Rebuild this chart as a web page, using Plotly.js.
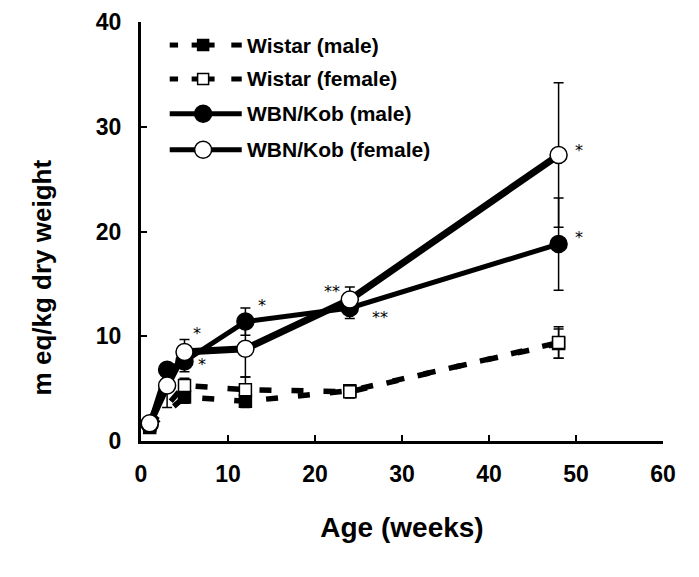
<!DOCTYPE html>
<html>
<head>
<meta charset="utf-8">
<script src="https://cdn.plot.ly/plotly-3.0.1.min.js"></script>
<style>html,body{margin:0;padding:0;background:#fff;}#chart{width:699px;height:577px;}</style>
</head>
<body>
<div id="chart"></div>
<script>
// ---- data ----
const agesWBN = [1, 3, 5, 12, 24, 48];
const agesWistar = [1, 5, 12, 24, 48];

const wistarMale = [1.3, 4.2, 3.8, 4.8, 9.3];
const wistarMaleErr = [0.3, 0.6, 0.6, 0.5, 1.4];
const wistarFemale = [1.5, 5.3, 4.9, 4.7, 9.4];
const wistarFemaleErr = [0.3, 0.7, 1.2, 0.6, 1.5];

const wbnMale = [1.6, 6.8, 7.6, 11.4, 12.7, 18.8];
const wbnMaleErr = [0.3, 0.5, 1.0, 1.3, 1.0, 4.4];
const wbnFemale = [1.7, 5.3, 8.5, 8.8, 13.5, 27.3];
const wbnFemaleErr = [0.3, 2.1, 1.2, 2.7, 1.2, 6.9];

const sigMale = ["", "", "*", "*", "**", "*"];
const sigFemale = ["", "", "*", "", "**", "*"];

const seriesNames = ["Wistar (male)", "Wistar (female)", "WBN/Kob (male)", "WBN/Kob (female)"];
const xTicks = [0, 10, 20, 30, 40, 50, 60];
const yTicks = [0, 10, 20, 30, 40];
const xTitle = "Age (weeks)";
const yTitle = "m eq/kg dry weight";

// ---- styles ----
const FONT = "Liberation Sans, Arial, Helvetica, sans-serif";
const DASH = "12px,20px";
function err(arr) { return {type: 'data', array: arr, visible: true, color: '#000', thickness: 1.5, width: 5}; }

const traces = [
  {x: agesWistar, y: wistarMale, name: seriesNames[0], mode: 'lines+markers',
   line: {color: '#000', width: 5.5, dash: DASH},
   marker: {symbol: 'square', size: 12, color: '#000', line: {color: '#000', width: 1.5}},
   error_y: err(wistarMaleErr)},
  {x: agesWistar, y: wistarFemale, name: seriesNames[1], mode: 'lines+markers',
   line: {color: '#000', width: 5.5, dash: DASH},
   marker: {symbol: 'square', size: 12, color: '#fff', line: {color: '#000', width: 1.5}},
   error_y: err(wistarFemaleErr)},
  {x: agesWBN, y: wbnMale, name: seriesNames[2], mode: 'lines+markers',
   line: {color: '#000', width: 5},
   marker: {symbol: 'circle', size: 17, color: '#000', line: {color: '#000', width: 1.5}},
   error_y: err(wbnMaleErr)},
  {x: agesWBN, y: wbnFemale, name: seriesNames[3], mode: 'lines+markers',
   line: {color: '#000', width: 7},
   marker: {symbol: 'circle', size: 17, color: '#fff', line: {color: '#000', width: 1.5}},
   error_y: err(wbnFemaleErr)}
];
traces.forEach(t => { t.showlegend = false; t.cliponaxis = false; });

// significance asterisks
const annotations = [];
const maleShift = [null, null, [17, -3], [17, 16], [30, -10], [20, 7]];
const femaleShift = [null, null, [12, 18], null, [-18, 8], [20, 5]];
const sigFont = {family: "DejaVu Sans, sans-serif", size: 16, color: '#000'};
agesWBN.forEach((a, i) => {
  if (sigMale[i]) annotations.push({x: a, y: wbnMale[i], text: sigMale[i], showarrow: false,
    xshift: maleShift[i][0], yshift: maleShift[i][1], font: sigFont});
  if (sigFemale[i]) annotations.push({x: a, y: wbnFemale[i], text: sigFemale[i], showarrow: false,
    xshift: femaleShift[i][0], yshift: femaleShift[i][1], font: sigFont});
});

// y axis title (placed lower than centre, as in the reference)
annotations.push({xref: 'paper', yref: 'paper', x: -0.19, y: 0.39, xanchor: 'center', yanchor: 'middle',
  textangle: -90, text: yTitle, showarrow: false,
  font: {family: FONT, size: 26, color: '#000', weight: 'bold'}});

// custom legend (paper coordinates)
const shapes = [];
const legendRowsY = [0.945, 0.864, 0.781, 0.695];
const legX0 = 0.055, legX1 = 0.193, legMid = 0.119, legText = 0.2;
const legStyle = [
  {dash: '7px,14px', w: 5, sym: 'square', fill: '#000'},
  {dash: '7px,14px', w: 5, sym: 'square', fill: '#fff'},
  {dash: 'solid', w: 5, sym: 'circle', fill: '#000'},
  {dash: 'solid', w: 5, sym: 'circle', fill: '#fff'}
];
seriesNames.forEach((nm, i) => {
  const yy = legendRowsY[i], st = legStyle[i];
  if (st.sym === 'square') {
    shapes.push({type: 'line', xref: 'paper', yref: 'paper', x0: legX0, x1: legX0 + 0.016, y0: yy, y1: yy, line: {color: '#000', width: st.w}});
    shapes.push({type: 'line', xref: 'paper', yref: 'paper', x0: legMid - 0.022, x1: legMid + 0.022, y0: yy, y1: yy, line: {color: '#000', width: st.w}});
    shapes.push({type: 'line', xref: 'paper', yref: 'paper', x0: legX1 - 0.02, x1: legX1, y0: yy, y1: yy, line: {color: '#000', width: st.w}});
    shapes.push({type: 'rect', xref: 'paper', yref: 'paper', xsizemode: 'pixel', ysizemode: 'pixel',
      xanchor: legMid, yanchor: yy, x0: -5.5, x1: 5.5, y0: -5.5, y1: 5.5,
      fillcolor: st.fill, line: {color: '#000', width: 1.5}});
  } else {
    shapes.push({type: 'line', xref: 'paper', yref: 'paper', x0: legX0, x1: legX1, y0: yy, y1: yy, line: {color: '#000', width: st.w}});
    shapes.push({type: 'circle', xref: 'paper', yref: 'paper', xsizemode: 'pixel', ysizemode: 'pixel',
      xanchor: legMid, yanchor: yy, x0: -8.5, x1: 8.5, y0: -8.5, y1: 8.5,
      fillcolor: st.fill, line: {color: '#000', width: 1.5}});
  }
  annotations.push({xref: 'paper', yref: 'paper', x: legText, y: yy, xanchor: 'left', yanchor: 'middle',
    text: nm, showarrow: false, font: {family: FONT, size: 21, color: '#000', weight: 'bold'}});
});

const layout = {
  width: 699, height: 577,
  margin: {l: 141, r: 36, t: 22, b: 136},
  paper_bgcolor: '#fff', plot_bgcolor: '#fff',
  showlegend: false,
  font: {family: FONT, color: '#000'},
  xaxis: {
    range: [0, 60], tickvals: xTicks, ticktext: xTicks.map(String),
    showgrid: false, zeroline: false, showline: true, linecolor: '#000', linewidth: 3,
    ticks: 'inside', ticklen: 6, tickwidth: 2, tickcolor: '#000',
    tickfont: {family: FONT, size: 23, color: '#000', weight: 'bold'},
    ticklabelstandoff: 10,
    title: {text: xTitle, font: {family: FONT, size: 28, color: '#000', weight: 'bold'}, standoff: 32},
    automargin: false
  },
  yaxis: {
    range: [0, 40], tickvals: yTicks, ticktext: yTicks.map(String),
    showgrid: false, zeroline: false, showline: true, linecolor: '#000', linewidth: 3,
    ticks: 'inside', ticklen: 6, tickwidth: 2, tickcolor: '#000',
    tickfont: {family: FONT, size: 23, color: '#000', weight: 'bold'},
    ticklabelstandoff: 12,
    automargin: false
  },
  shapes: shapes,
  annotations: annotations
};

Plotly.newPlot('chart', traces, layout, {displayModeBar: false, staticPlot: true});
</script>
</body>
</html>
